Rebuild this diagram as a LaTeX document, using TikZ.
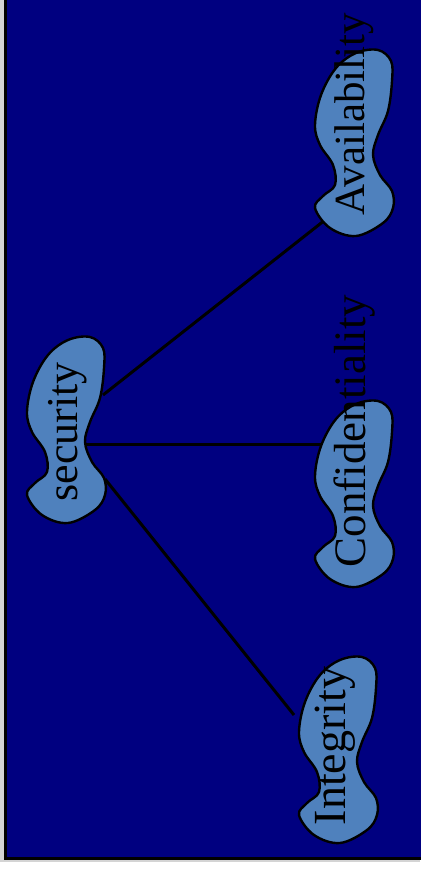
\documentclass[tikz,border=0pt]{standalone}
\usepackage{fontspec}
\setmainfont{Liberation Serif}
\definecolor{navybg}{HTML}{000080}
\definecolor{blobfill}{HTML}{4F81BD}
\definecolor{edgegray}{HTML}{D4D4D4}
\tikzset{
  blobstyle/.style={draw=black, line width=2.4pt, fill=blobfill},
  blobshape/.pic={
    \path[blobstyle] plot[smooth cycle, tension=0.6] coordinates {
      (66,2) (79,13) (80,33) (76,63) (66,87) (61,107) (68,127) (80,143)
      (81,160) (71,175) (44,188) (18,180) (3,160) (11,148) (23,137)
      (21,117) (8,97) (3,77) (9,47) (24,20) (44,5)};
  },
  lbl/.style={text=black, anchor=base, rotate=90, inner sep=0pt},
  link/.style={draw=black, line width=3pt}
}
\begin{document}
\begin{tikzpicture}[x=1pt,y=-1pt]
\useasboundingbox (0,0) rectangle (420,869);
\fill[white] (0,0) rectangle (420,869);
\fill[edgegray] (0,0) rectangle (5,862);
\fill[edgegray] (0,859) rectangle (420,862);
\path[fill=navybg, draw=black, line width=3pt] (5.5,-10) rectangle (430,858.5);
% connector end points
\coordinate (sA) at (103,395);
\coordinate (sC) at (86,444);
\coordinate (sI) at (105,479);
\coordinate (aE) at (325,220);
\coordinate (cE) at (326,444);
\coordinate (iE) at (294,715);
\draw[link] (sA) -- (aE);
\draw[link] (sC) -- (cE);
\draw[link] (sI) -- (iE);
% blobs
\pic at (24,335) {blobshape};
\pic at (312,48) {blobshape};
\pic at (312,399) {blobshape};
\pic at (296,655) {blobshape};
% labels
\node[lbl, font=\fontsize{44}{50}\selectfont] (sec) at (77,432) {security};
\node[lbl, font=\fontsize{43}{50}\selectfont] (avail) at (364,114) {Availability};
\node[lbl, font=\fontsize{45}{50}\selectfont] (conf) at (365,431) {Confidentiality};
\node[lbl, font=\fontsize{46}{50}\selectfont] (integ) at (345,746) {Integrity};
\end{tikzpicture}
\end{document}
